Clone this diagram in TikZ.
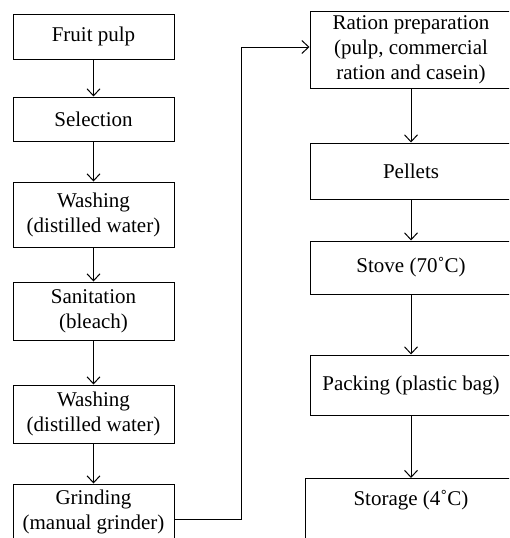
\documentclass[tikz,border=0pt]{standalone}
\usepackage{fontspec}
\setmainfont{Liberation Serif}
\usetikzlibrary{arrows.meta}
\begin{document}
\begin{tikzpicture}[x=1pt,y=-1pt,
  every node/.style={font=\fontsize{21}{25}\selectfont},
  lbox/.style={draw, line width=1pt, inner sep=0pt, minimum width=161pt, align=center},
  rbox/.style={draw, line width=1pt, inner sep=0pt, minimum width=202pt, align=center},
  conn/.style={line width=1pt, -{Straight Barb[length=7pt,width=13pt,line width=1pt]}}]
\useasboundingbox (0,0) rectangle (509,538);
\clip (0,0) rectangle (509,538);
% left column
\node[lbox, minimum height=45pt] (fruit) at (93.5,36.5) {Fruit pulp};
\node[lbox, minimum height=44pt] (sel) at (93.5,119) {Selection};
\node[lbox, minimum height=65pt] (wash1) at (93.5,214.5) {Washing\\(distilled water)};
\node[lbox, minimum height=58pt] (san) at (93.5,311) {Sanitation\\(bleach)};
\node[lbox, minimum height=58pt] (wash2) at (93.5,414) {Washing\\(distilled water)};
\node[lbox, minimum height=56pt] (grind) at (93.5,512) {Grinding\\(manual grinder)};
% right column
\node[rbox, minimum height=77pt] (ration) at (411,49.5) {Ration preparation\\(pulp, commercial\\ration and casein)};
\node[rbox, minimum height=56pt] (pel) at (411,171) {Pellets};
\node[rbox, minimum height=53pt] (stove) at (411,267.5) {Stove (70˚C)};
\node[rbox, minimum height=60pt] (pack) at (411,385) {Packing (plastic bag)};
\node[draw, line width=1pt, inner sep=0pt, minimum width=212pt, anchor=north,
      text height=27pt, text depth=60pt] (stor) at (411,478) {Storage (4˚C)};
% connectors
\draw[conn] (fruit) -- (sel);
\draw[conn] (sel) -- (wash1);
\draw[conn] (wash1) -- (san);
\draw[conn] (san) -- (wash2);
\draw[conn] (wash2) -- (grind);
\coordinate (gout) at (grind.east |- 0,519);
\coordinate (rin) at (ration.west |- 0,47);
\draw[conn] (gout) -- (241,519) -- (241,47) -- (rin);
\draw[conn] (ration) -- (pel);
\draw[conn] (pel) -- (stove);
\draw[conn] (stove) -- (pack);
\draw[conn] (pack) -- (stor);
\end{tikzpicture}
\end{document}
